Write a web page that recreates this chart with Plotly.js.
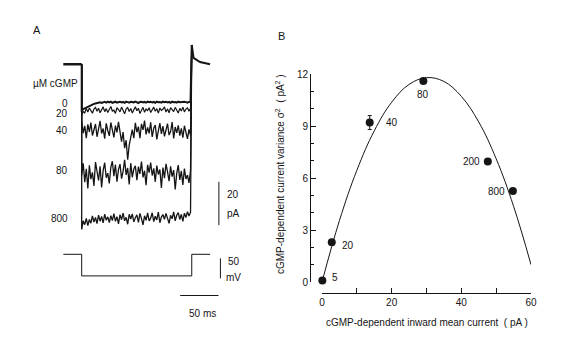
<!DOCTYPE html>
<html>
<head>
<meta charset="utf-8">
<script src="https://cdn.plot.ly/plotly-3.0.1.min.js"></script>
<style>
html, body { margin: 0; padding: 0; background: #fff; }
#chart { width: 568px; height: 338px; }
</style>
</head>
<body>
<div id="chart"></div>
<script>
// ---- panel B: variance vs mean current ----
var meanCurrent = [0.1, 2.8, 13.7, 29.1, 47.6, 54.8];
var variance = [0.08, 2.3, 9.2, 11.6, 6.95, 5.25];
var varianceErr = [0, 0, 0.4, 0, 0, 0];
var cgmpLabels = ['5', '20', '40', '80', '200', '800'];

// parabola
var fitCurrent = [0, 5, 10, 15, 20, 25, 30, 35, 40, 45, 50, 55, 60];
var fitVariance = [0, 3.54, 6.44, 8.72, 10.37, 11.40, 11.79, 11.57, 10.71, 9.23, 7.11, 4.37, 1.0];

// ---- panel A: current traces, pA relative to the 0 uM cGMP level ----
var holdTimes = [-24, 0];
var holdCurrent = [17.3, 17.3];
var stepTimes = [0, 2, 4, 6, 8, 10, 12, 14, 16,
    18, 20, 22, 24, 26, 28, 30, 32, 34,
    36, 38, 40, 42, 44, 46, 48, 50, 52,
    54, 56, 58, 60, 62, 64, 66, 68, 70,
    72, 74, 76, 78, 80, 82, 84, 86, 88,
    90, 92, 94, 96, 98, 100, 102, 104, 106,
    108, 110, 112, 114, 116, 118, 120, 122, 124,
    126, 128, 130, 132, 134, 136, 138, 140, 142];
var stepEnd = 143.6;
var tailTimes = [143.6, 145.9, 154.4, 167.5];
var tailCurrent = [26.2, 20.2, 18.3, 17.3];

var cgmp0 = [-3.8, -3.4, -3.0, -2.6, -2.3, -1.9, -1.6, -1.3, -1.0,
    -0.8, -0.6, -0.4, -0.3, -0.6, -0.2, -0.1, -0.4, 0.0,
    -0.3, 0.0, -0.5, -0.1, 0.0, -0.4, -0.2, 0.0, -0.3,
    -0.1, -0.5, 0.0, -0.2, -0.4, 0.0, -0.1, -0.3, 0.0,
    -0.2, -0.6, -0.1, 0.0, -0.3, -0.1, -0.4, 0.0, -0.2,
    0.0, -0.3, -0.1, -0.5, 0.0, -0.2, -0.1, -0.4, 0.0,
    -0.2, 0.0, -0.3, -0.1, -0.5, 0.0, -0.2, -0.1, -0.4,
    0.0, -0.2, -0.1, -0.3, 0.0, -0.2, -0.4, -0.1, 0.0];
var cgmp20 = [-6.0, -4.5, -5.2, -3.1, -4.8, -2.9, -4.1, -5.3, -3.4,
    -2.6, -4.4, -3.0, -5.1, -3.7, -2.4, -4.6, -3.2, -5.0,
    -3.5, -2.2, -4.3, -3.9, -5.4, -2.8, -3.6, -4.7, -2.5,
    -4.0, -5.6, -3.3, -2.7, -4.5, -3.1, -5.2, -3.8, -2.3,
    -4.2, -3.0, -5.5, -3.6, -2.6, -4.9, -3.4, -4.1, -2.8,
    -5.0, -3.7, -2.5, -4.4, -3.2, -5.3, -2.9, -4.0, -3.5,
    -2.4, -4.8, -3.3, -5.1, -2.7, -3.9, -4.6, -2.6, -3.8,
    -5.2, -3.1, -4.3, -2.5, -4.7, -3.4, -2.9, -4.4, -3.0];
var cgmp40 = [-9.0, -14.5, -11.2, -16.8, -10.5, -13.9, -9.7, -15.6, -12.1,
    -10.3, -16.2, -11.8, -8.9, -14.7, -12.4, -17.1, -10.0, -13.3,
    -15.8, -9.6, -12.7, -16.5, -11.0, -14.2, -9.3, -13.6, -18.4,
    -14.0, -21.5, -17.8, -26.8, -20.0, -15.3, -12.9, -16.8, -9.8,
    -14.1, -11.5, -16.9, -10.2, -13.0, -8.7, -15.1, -11.9, -14.6,
    -9.5, -16.3, -12.2, -10.8, -17.4, -13.5, -9.9, -14.9, -11.3,
    -16.0, -12.6, -10.1, -15.4, -13.8, -9.4, -17.0, -11.7, -14.4,
    -10.9, -15.7, -12.3, -16.6, -11.1, -14.0, -17.2, -12.8, -15.5];
var cgmp80 = [-34.0, -28.5, -37.2, -31.0, -40.1, -29.4, -35.8, -32.6, -38.9,
    -27.9, -33.5, -36.4, -29.8, -39.6, -31.7, -28.2, -35.1, -33.0,
    -37.7, -30.3, -27.5, -34.4, -29.1, -36.9, -31.4, -28.8, -35.5,
    -32.2, -26.9, -33.8, -30.6, -38.2, -28.4, -34.9, -31.1, -29.6,
    -36.2, -30.0, -33.3, -27.7, -35.0, -31.9, -38.6, -29.2, -32.8,
    -28.1, -34.1, -30.8, -37.0, -29.5, -33.6, -31.3, -39.8, -30.4,
    -35.3, -28.7, -32.4, -36.7, -29.9, -34.6, -31.6, -40.5, -33.1,
    -29.3, -36.1, -32.0, -38.4, -30.9, -35.7, -33.9, -37.5, -31.8];
var cgmp800 = [-59.0, -55.0, -56.8, -53.9, -57.2, -54.4, -56.1, -52.8, -55.6,
    -53.5, -56.3, -52.4, -55.2, -53.0, -56.0, -51.9, -54.7, -53.2,
    -55.8, -52.6, -54.9, -51.7, -55.3, -53.1, -56.4, -52.2, -54.5,
    -51.5, -55.0, -53.4, -56.6, -52.0, -54.2, -51.8, -55.5, -53.6,
    -52.3, -55.7, -51.6, -54.0, -56.9, -52.7, -54.8, -51.4, -55.1,
    -53.8, -51.3, -55.4, -52.9, -54.6, -51.0, -55.9, -53.3, -52.1,
    -54.3, -51.6, -53.7, -56.2, -52.5, -54.1, -50.9, -55.0, -52.4,
    -51.2, -54.4, -52.0, -55.3, -51.5, -53.5, -50.8, -52.8, -51.1];
var traceLabels = ['0', '20', '40', '80', '800'];

// voltage command (mV) and scale bars
var voltTimes = [-24, 0, 0, 143.6, 143.6, 167.5];
var voltValues = [0, 0, -54, -54, 0, 0];
var barCurrentTimes = [179, 179];
var barCurrentValues = [-37, -57];
var barVoltTimes = [181, 181];
var barVoltValues = [-10, -60];
var barTimeTimes = [128.5, 178.5];
var barTimeValues = [-103, -103];

var font = 'Liberation Sans, Arial, sans-serif';
var ink = '#151515';

function px(x) { return x / 568; }
function py(y) { return 1 - y / 338; }

function currentTrace(values, width) {
    return {
        x: [0].concat(stepTimes).concat([stepEnd]),
        y: [holdCurrent[1]].concat(values).concat([tailCurrent[0]]),
        xaxis: 'x2', yaxis: 'y2',
        mode: 'lines',
        line: { color: ink, width: width },
        hoverinfo: 'skip'
    };
}

function plainLine(xs, ys, yaxis, width) {
    return {
        x: xs, y: ys,
        xaxis: 'x2', yaxis: yaxis,
        mode: 'lines',
        line: { color: ink, width: width },
        hoverinfo: 'skip'
    };
}

var data = [
    {
        x: fitCurrent, y: fitVariance,
        mode: 'lines',
        line: { color: ink, width: 1, shape: 'spline', smoothing: 1.1 },
        cliponaxis: false
    },
    {
        x: meanCurrent, y: variance,
        mode: 'markers',
        marker: { color: ink, size: 8 },
        error_y: { type: 'data', array: varianceErr, color: ink, thickness: 1, width: 2 },
        cliponaxis: false
    },
    plainLine(holdTimes, holdCurrent, 'y2', 2.5),
    currentTrace(cgmp800, 1.3),
    currentTrace(cgmp80, 1.3),
    currentTrace(cgmp40, 1.3),
    currentTrace(cgmp20, 1.2),
    currentTrace(cgmp0, 2),
    plainLine(tailTimes, tailCurrent, 'y2', 2),
    plainLine(voltTimes, voltValues, 'y3', 1),
    plainLine(barCurrentTimes, barCurrentValues, 'y2', 1),
    plainLine(barVoltTimes, barVoltValues, 'y3', 1),
    plainLine(barTimeTimes, barTimeValues, 'y3', 1)
];

var annotations = [];
function addText(text, x, y, size, extra) {
    var a = {
        text: text, xref: 'paper', yref: 'paper',
        x: px(x), y: py(y), xanchor: 'center', yanchor: 'middle',
        showarrow: false, font: { family: font, size: size, color: ink }
    };
    for (var k in extra) { a[k] = extra[k]; }
    annotations.push(a);
}

// point labels in panel B (pixel offsets from each point)
var labelShifts = [[13, 3], [16, -3], [22, 0], [0, -14], [-16, 0], [-16, 0]];
for (var i = 0; i < cgmpLabels.length; i++) {
    annotations.push({
        text: cgmpLabels[i], x: meanCurrent[i], y: variance[i], xref: 'x', yref: 'y',
        xshift: labelShifts[i][0], yshift: labelShifts[i][1],
        showarrow: false, font: { family: font, size: 10, color: ink }
    });
}

// trace labels in panel A
var labelRows = [103, 114, 130, 170, 218];
for (var j = 0; j < traceLabels.length; j++) {
    addText(traceLabels[j], 70, labelRows[j], 10, { xanchor: 'right' });
}
addText('\u00b5M cGMP', 55, 83, 10);
addText('A', 37, 30, 11);
addText('B', 281, 36, 11);
addText('20', 233, 195, 10);
addText('pA', 233, 213, 10);
addText('50', 234, 261, 10);
addText('mV', 233, 277, 10);
addText('50 ms', 202, 313, 10);
addText('cGMP-dependent inward mean current  ( pA )', 427, 322, 10);
addText('cGMP-dependent current variance \u03c3<sup>2</sup>  ( pA<sup>2</sup> )', 280, 174, 10, { textangle: -90 });

var layout = {
    width: 568,
    height: 338,
    margin: { l: 0, r: 0, t: 0, b: 0 },
    paper_bgcolor: '#fff',
    plot_bgcolor: 'rgba(0,0,0,0)',
    showlegend: false,
    font: { family: font, size: 10, color: ink },
    xaxis: {
        domain: [px(322), px(531)], range: [0, 60],
        anchor: 'free', position: py(293),
        showline: true, linecolor: ink, linewidth: 1,
        ticks: 'inside', ticklen: 5, tickcolor: ink, tick0: 0, dtick: 20,
        minor: { dtick: 10, ticks: 'inside', ticklen: 5, tickcolor: ink },
        showgrid: false, zeroline: false,
        tickfont: { family: font, size: 10, color: ink }
    },
    yaxis: {
        domain: [py(282), py(74)], range: [0, 12],
        anchor: 'free', position: px(310),
        showline: true, linecolor: ink, linewidth: 1,
        ticks: 'inside', ticklen: 5, tickcolor: ink, tick0: 0, dtick: 3,
        minor: { dtick: 1, ticks: 'inside', ticklen: 3, tickcolor: ink },
        showgrid: false, zeroline: false,
        tickfont: { family: font, size: 10, color: ink }
    },
    xaxis2: {
        domain: [px(20), px(250)], range: [-80.5, 219.6],
        anchor: 'y2', visible: false
    },
    yaxis2: {
        domain: [py(240), py(30)], range: [-63.88, 33.12],
        anchor: 'x2', visible: false
    },
    yaxis3: {
        domain: [py(305), py(245)], range: [-126.75, 23.25],
        anchor: 'x2', visible: false
    },
    annotations: annotations
};

Plotly.newPlot('chart', data, layout, { displayModeBar: false, staticPlot: true });
</script>
</body>
</html>
